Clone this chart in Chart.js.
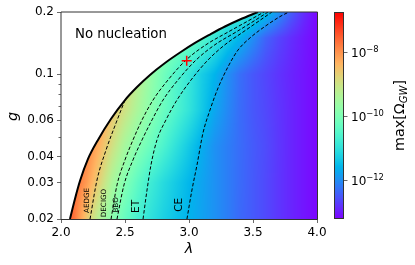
<!DOCTYPE html>
<html>
<head>
<meta charset="utf-8">
<script src="https://cdn.jsdelivr.net/npm/chart.js@4.4.1/dist/chart.umd.min.js"></script>
<style>
  html, body { margin: 0; padding: 0; background: #fff; }
</style>
</head>
<body>
<canvas id="chart" width="415" height="265"></canvas>
<script>
// grid of log10(max Omega_GW)
const lambdaGrid = [2.0, 2.1, 2.2, 2.3, 2.4, 2.5, 2.6, 2.7, 2.8, 2.9, 3.0, 3.1, 3.2, 3.3, 3.4, 3.5, 3.6, 3.7, 3.8, 3.9, 4.0];
const gGrid = [0.02, 0.03, 0.045, 0.067, 0.1, 0.15, 0.2];
const logOmega = [
  [-7.3, -7.7, -8.6, -9.35, -9.85, -10.3, -10.7, -11.0, -11.25, -11.45, -11.62, -11.8, -11.97, -12.15, -12.35, -12.48, -12.62, -12.78, -12.92, -13.05, -13.17],
  [-7.0, -7.6, -8.1, -8.75, -9.45, -9.95, -10.4, -10.8, -11.1, -11.35, -11.58, -11.78, -11.97, -12.15, -12.33, -12.48, -12.62, -12.78, -12.92, -13.05, -13.17],
  [-7.0, -7.4, -7.8, -8.35, -8.95, -9.5, -9.9, -10.25, -10.62, -11.0, -11.35, -11.68, -11.97, -12.15, -12.32, -12.47, -12.6, -12.77, -12.92, -13.05, -13.17],
  [-7.0, -7.4, -7.7, -8.0, -8.55, -9.0, -9.45, -9.85, -10.25, -10.6, -10.95, -11.35, -11.75, -12.05, -12.32, -12.5, -12.63, -12.78, -12.92, -13.05, -13.17],
  [-7.5, -7.7, -7.9, -8.1, -8.4, -8.7, -9.2, -9.7, -10.15, -10.55, -10.9, -11.3, -11.6, -11.98, -12.3, -12.5, -12.65, -12.8, -12.93, -13.05, -13.17],
  [-8.0, -8.2, -8.4, -8.6, -8.8, -9.0, -9.2, -9.45, -9.7, -9.95, -10.2, -10.5, -10.9, -11.3, -11.6, -12.0, -12.4, -12.65, -12.85, -13.02, -13.17],
  [-8.6, -8.75, -8.9, -9.05, -9.2, -9.35, -9.5, -9.65, -9.8, -9.95, -10.1, -10.25, -10.4, -10.55, -10.7, -11.0, -11.45, -11.95, -12.45, -12.85, -13.17]
];

// nucleation boundary
const boundaryLambda = [2.07, 2.109, 2.148, 2.211, 2.289, 2.39, 2.5, 2.594, 2.695, 2.8125, 2.93, 3.047, 3.164, 3.281, 3.398, 3.539];
const boundaryG = [0.02, 0.025, 0.0305, 0.039, 0.0482, 0.0608, 0.0751, 0.0868, 0.0993, 0.1134, 0.1274, 0.1417, 0.1557, 0.1702, 0.184, 0.2];

// detector curves
const aedgeLambda = [2.227, 2.281, 2.352, 2.43, 2.5];
const aedgeG = [0.02, 0.0308, 0.0431, 0.0582, 0.0751];
const decigoLambda = [2.391, 2.4375, 2.5, 2.5625, 2.633, 2.719, 2.836, 2.977, 3.133, 3.305, 3.461, 3.586];
const decigoG = [0.02, 0.0292, 0.0386, 0.0482, 0.0602, 0.0751, 0.0939, 0.1172, 0.139, 0.160, 0.181, 0.2];
const bboLambda = [2.4375, 2.492, 2.5625, 2.633, 2.711, 2.797, 2.914, 3.055, 3.203, 3.367, 3.508, 3.617];
const bboG = [0.02, 0.0292, 0.0386, 0.0482, 0.0602, 0.0751, 0.0939, 0.1172, 0.139, 0.160, 0.181, 0.2];
const etLambda = [2.641, 2.672, 2.703, 2.75, 2.82, 2.906, 3.016, 3.148, 3.281, 3.422, 3.547, 3.648];
const etG = [0.02, 0.0276, 0.0365, 0.0482, 0.0602, 0.0751, 0.0939, 0.1172, 0.139, 0.160, 0.181, 0.2];
const ceLambda = [2.984, 3.023, 3.0625, 3.109, 3.164, 3.227, 3.3125, 3.383, 3.477, 3.609, 3.719, 3.781];
const ceG = [0.02, 0.0276, 0.0365, 0.052, 0.0672, 0.0859, 0.111, 0.131, 0.150, 0.173, 0.1913, 0.2];

const markerLambda = [2.982];
const markerG = [0.1163];

const detectorNames = ["AEDGE", "DECIGO", "BBO", "ET", "CE"];
const detectorLabelLambda = [2.203, 2.34, 2.43, 2.59, 2.926];
const detectorLabelG = [0.0246, 0.0239, 0.0234, 0.023, 0.0234];

const xTicks = [2.0, 2.5, 3.0, 3.5, 4.0];
const xTickLabels = ["2.0", "2.5", "3.0", "3.5", "4.0"];
const yTicks = [0.02, 0.03, 0.04, 0.06, 0.1, 0.2];
const yTickLabels = ["0.02", "0.03", "0.04", "0.06", "0.1", "0.2"];
const yMinorTicks = [0.05, 0.07, 0.08, 0.09];
const cbTicks = [-12, -10, -8];
const cbMin = -13.22;
const cbMax = -6.75;

const FONT = '"DejaVu Sans", "Liberation Sans", sans-serif';

function toPoints(xs, ys) {
  return xs.map((x, i) => ({ x, y: ys[i] }));
}

// matplotlib "rainbow"
function rainbow(t) {
  t = Math.max(0, Math.min(1, t));
  const r = Math.min(1, Math.abs(2 * t - 0.5));
  const g = Math.sin(Math.PI * t);
  const b = Math.cos(Math.PI * t / 2);
  return [Math.round(r * 255), Math.round(g * 255), Math.round(b * 255)];
}

function findIdx(arr, v) {
  for (let i = 0; i < arr.length - 2; i++) {
    if (v < arr[i + 1]) return i;
  }
  return arr.length - 2;
}

const logG = gGrid.map(Math.log10);

function sampleLogOmega(lam, g) {
  const lg = Math.log10(g);
  const i = findIdx(lambdaGrid, lam);
  const j = findIdx(logG, lg);
  const tx = Math.max(0, Math.min(1, (lam - lambdaGrid[i]) / (lambdaGrid[i + 1] - lambdaGrid[i])));
  const ty = Math.max(0, Math.min(1, (lg - logG[j]) / (logG[j + 1] - logG[j])));
  const a = logOmega[j][i] * (1 - tx) + logOmega[j][i + 1] * tx;
  const b = logOmega[j + 1][i] * (1 - tx) + logOmega[j + 1][i + 1] * tx;
  return a * (1 - ty) + b * ty;
}

const heatmap = {
  id: "heatmap",
  beforeDatasetsDraw(chart) {
    const { ctx, chartArea: area, scales } = chart;
    const w = Math.round(area.right - area.left);
    const h = Math.round(area.bottom - area.top);
    const off = document.createElement("canvas");
    off.width = w;
    off.height = h;
    const octx = off.getContext("2d");
    const img = octx.createImageData(w, h);
    for (let j = 0; j < h; j++) {
      const g = scales.y.getValueForPixel(area.top + j + 0.5);
      for (let i = 0; i < w; i++) {
        const lam = scales.x.getValueForPixel(area.left + i + 0.5);
        let c = [255, 255, 255];
        if (lam >= boundaryLambda[0]) {
          c = rainbow((sampleLogOmega(lam, g) - cbMin) / (cbMax - cbMin));
        }
        const k = (j * w + i) * 4;
        img.data[k] = c[0];
        img.data[k + 1] = c[1];
        img.data[k + 2] = c[2];
        img.data[k + 3] = 255;
      }
    }
    octx.putImageData(img, 0, 0);
    ctx.drawImage(off, area.left, area.top);
  }
};

function drawMath(ctx, parts, x, y) {
  // parts: [text, font, dy]
  let cx = x;
  for (const [txt, font, dy] of parts) {
    ctx.font = font;
    ctx.fillText(txt, cx, y + dy);
    cx += ctx.measureText(txt).width;
  }
  return cx;
}

const overlay = {
  id: "overlay",
  afterDraw(chart) {
    const { ctx, chartArea: area, scales } = chart;
    const x = scales.x, y = scales.y, cb = scales.cb;
    ctx.save();
    ctx.fillStyle = "#000";

    // frame
    ctx.lineWidth = 1;
    ctx.strokeStyle = "#333";
    ctx.beginPath();
    ctx.moveTo(area.left, area.bottom + 0.5);
    ctx.lineTo(area.left, area.top);
    ctx.lineTo(area.right + 0.5, area.top);
    ctx.lineTo(area.right + 0.5, area.bottom + 0.5);
    ctx.lineTo(area.left, area.bottom + 0.5);
    ctx.stroke();

    // minor y ticks
    ctx.lineWidth = 0.8;
    ctx.strokeStyle = "#444";
    for (const v of yMinorTicks) {
      const py = Math.round(y.getPixelForValue(v)) + 0.5;
      ctx.beginPath();
      ctx.moveTo(area.left - 2.5, py);
      ctx.lineTo(area.left, py);
      ctx.stroke();
    }

    // No nucleation
    ctx.font = "13.3px " + FONT;
    ctx.textAlign = "left";
    ctx.textBaseline = "alphabetic";
    ctx.fillText("No nucleation", x.getPixelForValue(2.109), y.getPixelForValue(0.15));

    // detector labels
    detectorNames.forEach((name, i) => {
      const px = x.getPixelForValue(detectorLabelLambda[i]);
      const py = y.getPixelForValue(detectorLabelG[i]);
      const size = name.length <= 2 ? 10.5 : 7.2;
      ctx.save();
      ctx.translate(px, py);
      ctx.rotate(-Math.PI / 2);
      ctx.font = size + "px " + FONT;
      ctx.textAlign = "center";
      ctx.textBaseline = "middle";
      ctx.fillText(name, 0, 0);
      ctx.restore();
    });

    // axis titles
    ctx.font = "italic 14.4px " + FONT;
    ctx.textAlign = "center";
    ctx.textBaseline = "alphabetic";
    ctx.fillText("λ", (area.left + area.right) / 2, 253);
    ctx.save();
    ctx.translate(17, (area.top + area.bottom) / 2 + 1);
    ctx.rotate(-Math.PI / 2);
    ctx.fillText("g", 0, 0);
    ctx.restore();

    // colorbar
    const cbLeft = 334, cbRight = 344;
    for (let py = Math.round(area.top); py < Math.round(area.bottom); py++) {
      const v = cb.getValueForPixel(py + 0.5);
      const c = rainbow((v - cbMin) / (cbMax - cbMin));
      ctx.fillStyle = "rgb(" + c[0] + "," + c[1] + "," + c[2] + ")";
      ctx.fillRect(cbLeft, py, cbRight - cbLeft, 1);
    }
    ctx.strokeStyle = "#333";
    ctx.lineWidth = 1;
    ctx.strokeRect(cbLeft + 0.5, Math.round(area.top) + 0.5, cbRight - cbLeft - 1, Math.round(area.bottom - area.top) - 1);
    ctx.fillStyle = "#000";
    ctx.textAlign = "left";
    ctx.textBaseline = "alphabetic";
    for (const t of cbTicks) {
      const py = Math.round(cb.getPixelForValue(t)) + 0.5;
      ctx.strokeStyle = "#444";
      ctx.lineWidth = 0.8;
      ctx.beginPath();
      ctx.moveTo(cbRight, py);
      ctx.lineTo(cbRight + 3.5, py);
      ctx.stroke();
      drawMath(ctx, [["10", "12px " + FONT, 0], ["\u2212" + Math.abs(t), "8.4px " + FONT, -4.6]], cbRight + 7, py + 4.4);
    }

    // colorbar label
    ctx.save();
    ctx.translate(404, (area.top + area.bottom) / 2);
    ctx.rotate(-Math.PI / 2);
    const parts = [["max[Ω", "14.4px " + FONT, 0], ["GW", "italic 10px " + FONT, 3.2], ["]", "14.4px " + FONT, 0]];
    let total = 0;
    for (const [txt, font] of parts) { ctx.font = font; total += ctx.measureText(txt).width; }
    drawMath(ctx, parts, -total / 2, 0);
    ctx.restore();

    ctx.restore();
  }
};

const contourStyle = {
  type: "line",
  borderColor: "#000",
  borderWidth: 1,
  borderDash: [3.5, 2],
  pointRadius: 0,
  fill: false,
  cubicInterpolationMode: "monotone"
};

new Chart(document.getElementById("chart"), {
  type: "line",
  data: {
    datasets: [
      {
        type: "scatter",
        label: "point",
        data: toPoints(markerLambda, markerG),
        pointStyle: "cross",
        pointRadius: 5,
        borderColor: "#ff0000",
        backgroundColor: "#ff0000",
        pointBorderWidth: 1.5
      },
      { ...contourStyle, label: "AEDGE", data: toPoints(aedgeLambda, aedgeG) },
      { ...contourStyle, label: "DECIGO", data: toPoints(decigoLambda, decigoG) },
      { ...contourStyle, label: "BBO", data: toPoints(bboLambda, bboG) },
      { ...contourStyle, label: "ET", data: toPoints(etLambda, etG) },
      { ...contourStyle, label: "CE", data: toPoints(ceLambda, ceG) },
      {
        type: "line",
        label: "boundary",
        data: toPoints(boundaryLambda, boundaryG),
        borderColor: "#000",
        borderWidth: 2,
        pointRadius: 0,
        fill: "end",
        backgroundColor: "#ffffff",
        cubicInterpolationMode: "monotone"
      }
    ]
  },
  options: {
    responsive: false,
    animation: false,
    layout: { padding: { top: 12, right: 98, left: 0, bottom: 0 } },
    plugins: {
      legend: { display: false },
      tooltip: { enabled: false }
    },
    scales: {
      x: {
        type: "linear",
        min: 2,
        max: 4,
        afterFit: (s) => { s.height = 46; },
        afterBuildTicks: (s) => { s.ticks = xTicks.map((v) => ({ value: v })); },
        ticks: {
          callback: (v) => xTickLabels[xTicks.indexOf(v)],
          font: { family: FONT, size: 12 },
          color: "#000",
          padding: 3,
          maxRotation: 0
        },
        grid: { drawOnChartArea: false, drawTicks: true, tickLength: 4, tickColor: "#444", tickWidth: 0.8 },
        border: { display: false }
      },
      y: {
        type: "logarithmic",
        min: 0.02,
        max: 0.2,
        afterFit: (s) => { s.width = 61; },
        afterBuildTicks: (s) => { s.ticks = yTicks.map((v) => ({ value: v })); },
        ticks: {
          callback: (v) => yTickLabels[yTicks.indexOf(v)],
          font: { family: FONT, size: 12 },
          color: "#000",
          padding: 3
        },
        grid: { drawOnChartArea: false, drawTicks: true, tickLength: 4, tickColor: "#444", tickWidth: 0.8 },
        border: { display: false }
      },
      cb: {
        type: "linear",
        position: "right",
        display: false,
        min: cbMin,
        max: cbMax
      }
    }
  },
  plugins: [heatmap, overlay]
});
</script>
</body>
</html>
